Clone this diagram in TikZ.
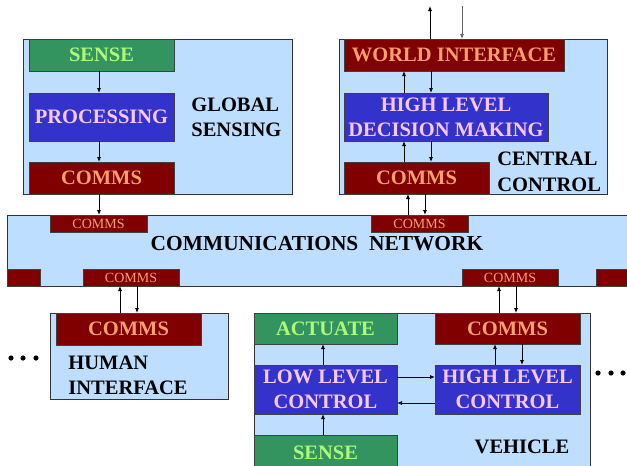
\documentclass[tikz,border=0pt]{standalone}
\usepackage{fontspec}
\setmainfont{Liberation Serif}
\usepackage{tikz}
\usetikzlibrary{positioning, arrows.meta}
\usepackage{xcolor}

\definecolor{panel}{RGB}{190,222,255}
\definecolor{sensegreen}{RGB}{51,148,96}
\definecolor{sensetext}{RGB}{175,250,120}
\definecolor{procblue}{RGB}{51,51,204}
\definecolor{proctext}{RGB}{250,200,250}
\definecolor{commsred}{RGB}{128,0,0}
\definecolor{commstext}{RGB}{250,160,110}

\tikzset{
	panelbox/.style={draw=black!80, fill=panel, line width=0.7pt},
	blk/.style={draw=black!75, line width=0.6pt, anchor=north west, inner sep=0pt, outer sep=0pt,
		align=center, font=\bfseries\fontsize{20.5}{25}\selectfont},
	sensebox/.style={blk, fill=sensegreen, text=sensetext},
	procbox/.style={blk, fill=procblue, text=proctext},
	commsbox/.style={blk, fill=commsred, text=commstext},
	netcomms/.style={commsbox, minimum width=97, minimum height=17, font=\fontsize{14}{14}\selectfont},
	tag/.style={inner sep=0pt, align=left, font=\bfseries\fontsize{20.5}{25.5}\selectfont},
}

\begin{document}
\begin{tikzpicture}[x=1pt, y=-1pt, >={Latex[length=5pt,width=4pt]}, line width=0.8pt]
			\useasboundingbox (0,0) rectangle (627,466);
			\clip (0,0) rectangle (627,466);
			% arrow columns
			\coordinate (gx) at (99,0);
			\coordinate (cup) at (404,0);
			\coordinate (cdn) at (431,0);
			\coordinate (nup) at (408,0);
			\coordinate (ndn) at (425,0);
			\coordinate (hup) at (120,0);
			\coordinate (hdn) at (137,0);
			\coordinate (vup) at (499,0);
			\coordinate (vdn) at (516,0);
			\coordinate (kup) at (495,0);
			\coordinate (kdn) at (522,0);
			\coordinate (lx) at (323,0);
			\coordinate (ry1) at (0,377);
			\coordinate (ry2) at (0,403);
			\coordinate (wout) at (430,6);
			\coordinate (win) at (462,6);
			% global sensing
			\draw[panelbox] (23,39) rectangle (292,194);
			\node[sensebox, minimum width=145, minimum height=32] (gsense) at (29,39) {SENSE};
			\node[procbox, minimum width=145, minimum height=48] (proc) at (29,93) {PROCESSING};
			\node[commsbox, minimum width=145, minimum height=32] (gcomms) at (29,162) {COMMS};
			\node[tag, anchor=west] (gstag) at (191,117.5) {GLOBAL\\SENSING};
			% central control
			\draw[panelbox] (339,39) rectangle (607,194);
			\node[commsbox, minimum width=220, minimum height=32] (wi) at (344,39) {WORLD INTERFACE};
			\node[procbox, minimum width=204, minimum height=48] (hldm) at (344,93) {HIGH LEVEL\\DECISION MAKING};
			\node[commsbox, minimum width=145, minimum height=32] (ccomms) at (344,162) {COMMS};
			\node[tag, anchor=west] (cctag) at (497,172) {CENTRAL\\CONTROL};
			% network
			\draw[panelbox] (7,215) rectangle (640,286);
			\node[netcomms] (nc1) at (50,215) {COMMS};
			\node[netcomms] (nc2) at (371,215) {COMMS};
			\node[netcomms, minimum width=33] (nl) at (7,269) {};
			\node[netcomms, minimum width=96] (nc3) at (83,269) {COMMS};
			\node[netcomms, minimum width=96] (nc4) at (462,269) {COMMS};
			\node[netcomms, minimum width=44] (nr) at (596,269) {};
			\node[tag, font=\bfseries\fontsize{21.4}{25}\selectfont] (nettag) at (317,244) {COMMUNICATIONS\ \ NETWORK};
			% human interface
			\draw[panelbox] (50,313) rectangle (228,399);
			\node[commsbox, minimum width=145, minimum height=32] (hcomms) at (56,313) {COMMS};
			\node[tag, anchor=west] (hitag) at (68,375.5) {HUMAN\\INTERFACE};
			% vehicle
			\draw[panelbox] (254,313) rectangle (590,480);
			\node[sensebox, minimum width=143, minimum height=31] (act) at (254,313) {ACTUATE};
			\node[commsbox, minimum width=145, minimum height=31] (vcomms) at (435,313) {COMMS};
			\node[procbox, minimum width=143, minimum height=49] (llc) at (254,365) {LOW LEVEL\\CONTROL};
			\node[procbox, minimum width=145, minimum height=49] (hlc) at (435,365) {HIGH LEVEL\\CONTROL};
			\node[sensebox, minimum width=143, minimum height=35] (vsense) at (254,435) {SENSE};
			\node[tag] (vtag) at (522,447) {VEHICLE};
			% dots
			\foreach \x in {11,23,36} \fill (\x,358) circle (2.6);
			\foreach \x in {598,611,623} \fill (\x,373) circle (2.6);
			% arrows, global sensing
			\draw[->] (gsense.south -| gx) -- (proc.north -| gx);
			\draw[->] (proc.south -| gx) -- (gcomms.north -| gx);
			\draw[->] (gcomms.south -| gx) -- (nc1.north -| gx);
			% arrows, central control
			\draw[->] (wi.north -| wout) -- (wout);
			\draw[->, black!60] (win) -- (wi.north -| win);
			\draw[->] (hldm.north -| cup) -- (wi.south -| cup);
			\draw[->] (wi.south -| cdn) -- (hldm.north -| cdn);
			\draw[->] (ccomms.north -| cup) -- (hldm.south -| cup);
			\draw[->] (hldm.south -| cdn) -- (ccomms.north -| cdn);
			\draw[->] (nc2.north -| nup) -- (ccomms.south -| nup);
			\draw[->] (ccomms.south -| ndn) -- (nc2.north -| ndn);
			% arrows, human interface
			\draw[->] (hcomms.north -| hup) -- (nc3.south -| hup);
			\draw[->] (nc3.south -| hdn) -- (hcomms.north -| hdn);
			% arrows, vehicle
			\draw[->] (vcomms.north -| vup) -- (nc4.south -| vup);
			\draw[->] (nc4.south -| vdn) -- (vcomms.north -| vdn);
			\draw[->] (llc.north -| lx) -- (act.south -| lx);
			\draw[->] (vsense.north -| lx) -- (llc.south -| lx);
			\draw[->] (llc.east |- ry1) -- (hlc.west |- ry1);
			\draw[->] (hlc.west |- ry2) -- (llc.east |- ry2);
			\draw[->] (hlc.north -| kup) -- (vcomms.south -| kup);
			\draw[->] (vcomms.south -| kdn) -- (hlc.north -| kdn);
		\end{tikzpicture}
\end{document}
